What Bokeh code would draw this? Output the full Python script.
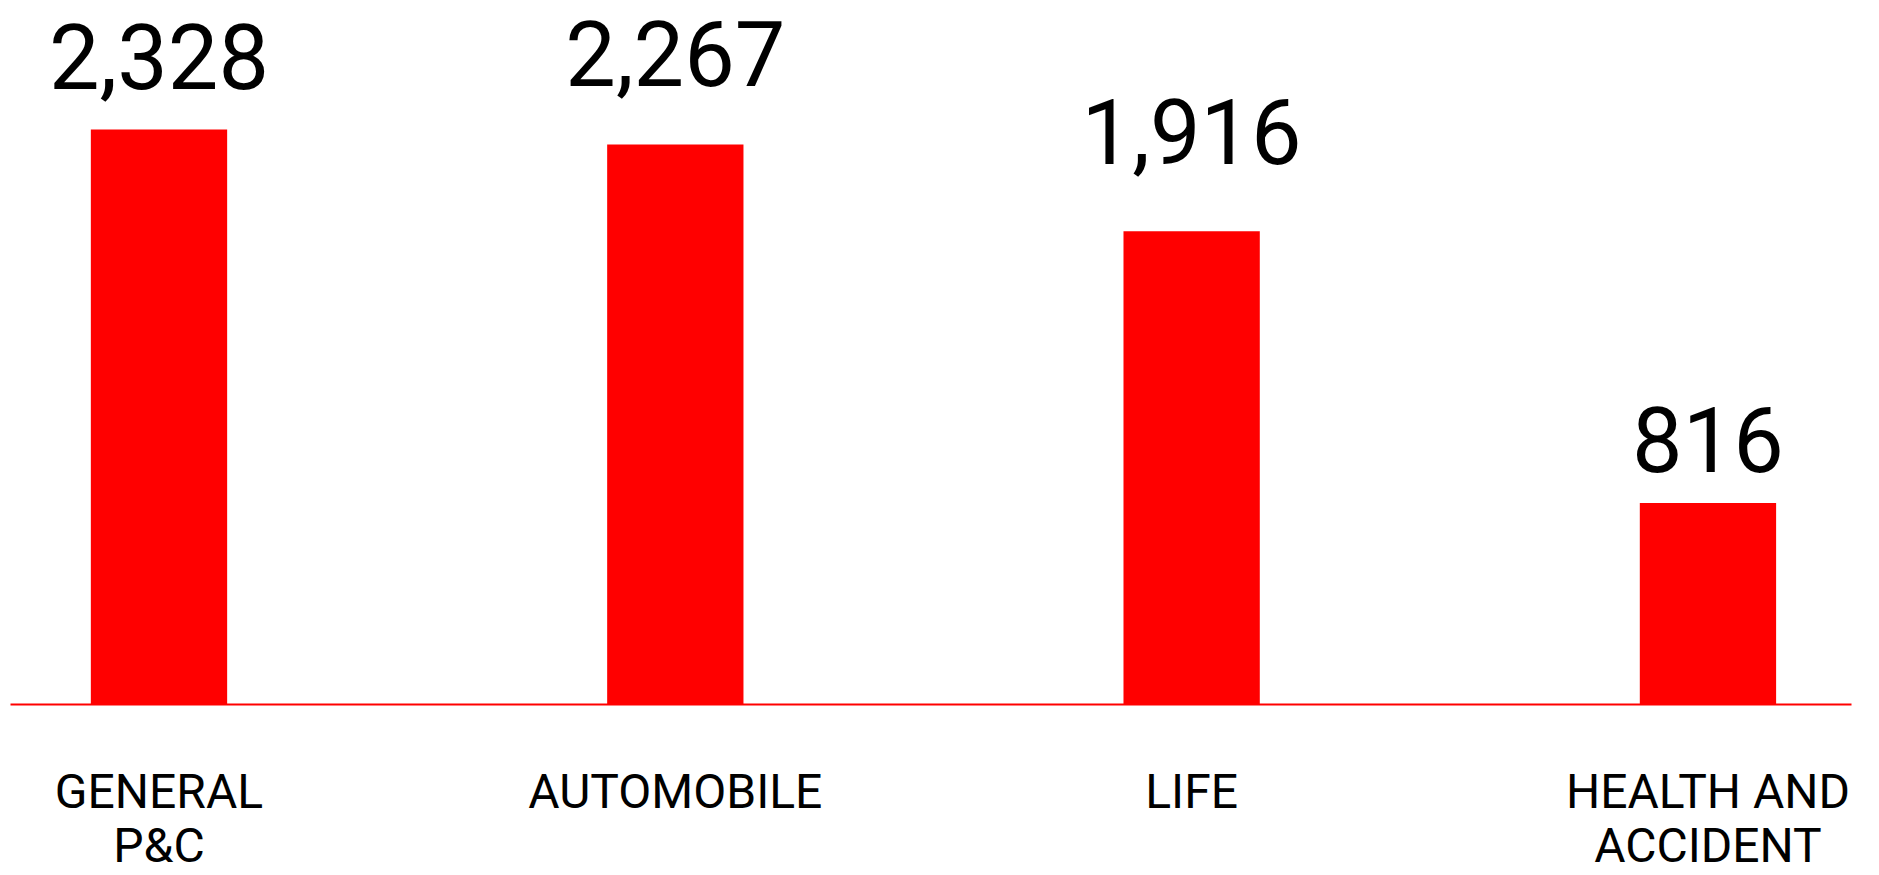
from bokeh.plotting import figure
from bokeh.models import ColumnDataSource, FixedTicker, Range1d
from bokeh.core.properties import value
from bokeh.embed import file_html
from bokeh.resources import INLINE

# ---- data ----
categories = ["GENERAL\nP&C", "AUTOMOBILE", "LIFE", "HEALTH AND\nACCIDENT"]
values = [2328, 2267, 1916, 816]
value_labels = ["2,328", "2,267", "1,916", "816"]

# ---- style ----
label_gap_px = [40, 58, 67, 30]
BASELINE_FIX = 33
FRAME_W = 1841
FRAME_H = 704
BAR_TOP_PX = 575.0  # pixel height of the tallest bar
FONT = "Roboto"
RED = "#ff0000"

xs = list(range(len(categories)))
px_per_unit = BAR_TOP_PX / max(values)
y_end = FRAME_H / px_per_unit

src = ColumnDataSource(dict(
    x=xs, top=values, text=value_labels,
    yoff=[-(g + BASELINE_FIX) for g in label_gap_px],
))

p = figure(
    frame_width=FRAME_W, frame_height=FRAME_H,
    x_range=Range1d(-0.2876, 3.278), y_range=Range1d(0, y_end),
    output_backend="svg", toolbar_location=None,
    min_border_left=10, min_border_right=28, min_border_top=0, min_border_bottom=0,
)
p.outline_line_color = None
p.grid.visible = False
p.yaxis.visible = False
p.background_fill_color = "white"
p.border_fill_color = "white"

p.vbar(x="x", top="top", bottom=0, width=0.264, source=src,
       fill_color=RED, line_color=None)

p.text(x="x", y="top", text="text", source=src, y_offset="yoff",
       text_font=value(FONT), text_font_size="90px", text_color="black",
       text_align="center", text_baseline="alphabetic")

ax = p.xaxis[0]
ax.ticker = FixedTicker(ticks=xs)
ax.major_label_overrides = {i: c for i, c in zip(xs, categories)}
ax.axis_line_color = RED
ax.axis_line_width = 2
ax.major_tick_line_color = None
ax.minor_tick_line_color = None
ax.major_tick_out = 0
ax.major_tick_in = 0
ax.major_label_standoff = 58
ax.major_label_text_font = FONT
ax.major_label_text_font_size = "48px"
ax.major_label_text_color = "black"
ax.major_label_text_line_height = 0.95

open("out.html", "w").write(file_html(p, INLINE))
